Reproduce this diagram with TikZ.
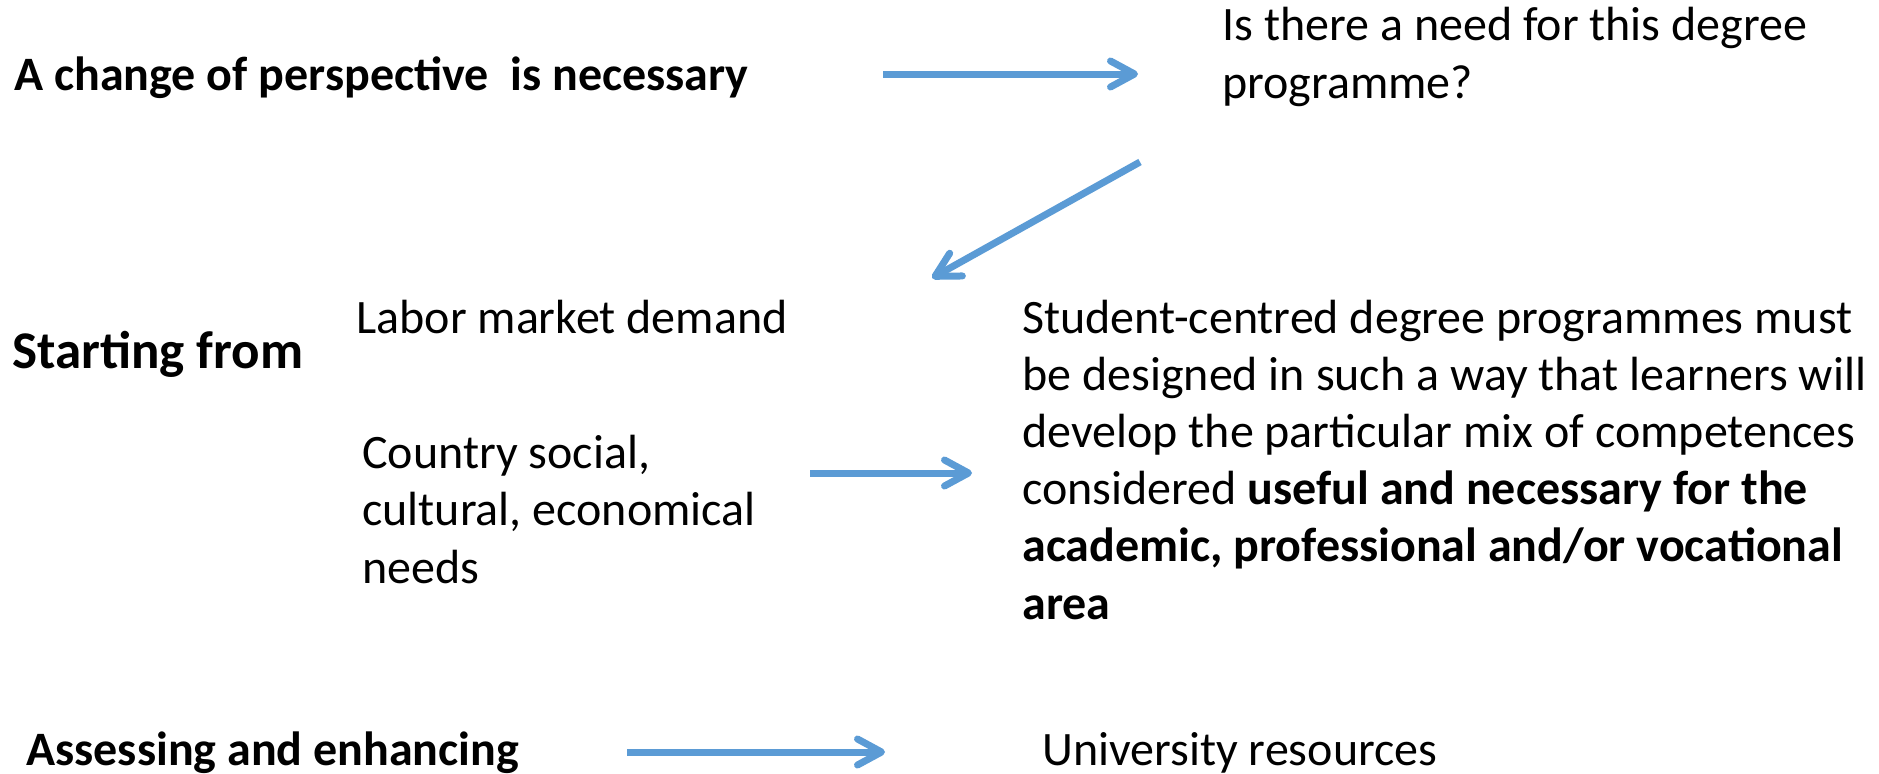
\documentclass[tikz,border=0pt]{standalone}
\usepackage{fontspec}
\setmainfont{Carlito}
\usetikzlibrary{arrows.meta}
\definecolor{arrowblue}{RGB}{91,155,213}
\begin{document}
\begin{tikzpicture}[x=0.5pt,y=-0.5pt,
  txt/.style={inner sep=0pt, anchor=base west, align=left, font=\fontsize{24pt}{28.6pt}\selectfont},
  hdr/.style={txt, font=\fontsize{24pt}{28.6pt}\selectfont\bfseries},
  bighdr/.style={txt, font=\fontsize{26.5pt}{31pt}\selectfont\bfseries},
  arr/.style={draw=arrowblue, line width=3.5pt, -{Straight Barb[length=12pt,width=13pt,line cap=round,line join=round]}}]
\useasboundingbox (0,0) rectangle (1879,773);
\node[hdr] (change) at (14,90) {A change of perspective\ \ is necessary};
\node[txt] (need) at (1222,98) {Is there a need for this degree\\programme?};
\node[bighdr] (start) at (12,368) {Starting from};
\node[txt] (labor) at (356,333) {Labor market demand};
\node[txt] (student) at (1022,619) {Student-centred degree programmes must\\be designed in such a way that learners will\\develop the particular mix of competences\\considered \textbf{useful and necessary for the}\\\textbf{academic, professional and/or vocational}\\\textbf{area}};
\node[txt] (country) at (362,583) {Country social,\\cultural, economical\\needs};
\node[hdr] (assess) at (26,765) {Assessing and enhancing};
\node[txt] (univ) at (1042,765) {University resources};
\coordinate (a1s) at (883,74);
\coordinate (a1e) at (1138,74);
\coordinate (a2s) at (1140,162);
\coordinate (a2e) at (932,278);
\coordinate (a3s) at (810,473);
\coordinate (a3e) at (972,473);
\coordinate (a4s) at (627,752);
\coordinate (a4e) at (885,752);
\draw[arr] (a1s) -- (a1e);
\draw[arr] (a2s) -- (a2e);
\draw[arr] (a3s) -- (a3e);
\draw[arr] (a4s) -- (a4e);
\end{tikzpicture}
\end{document}
